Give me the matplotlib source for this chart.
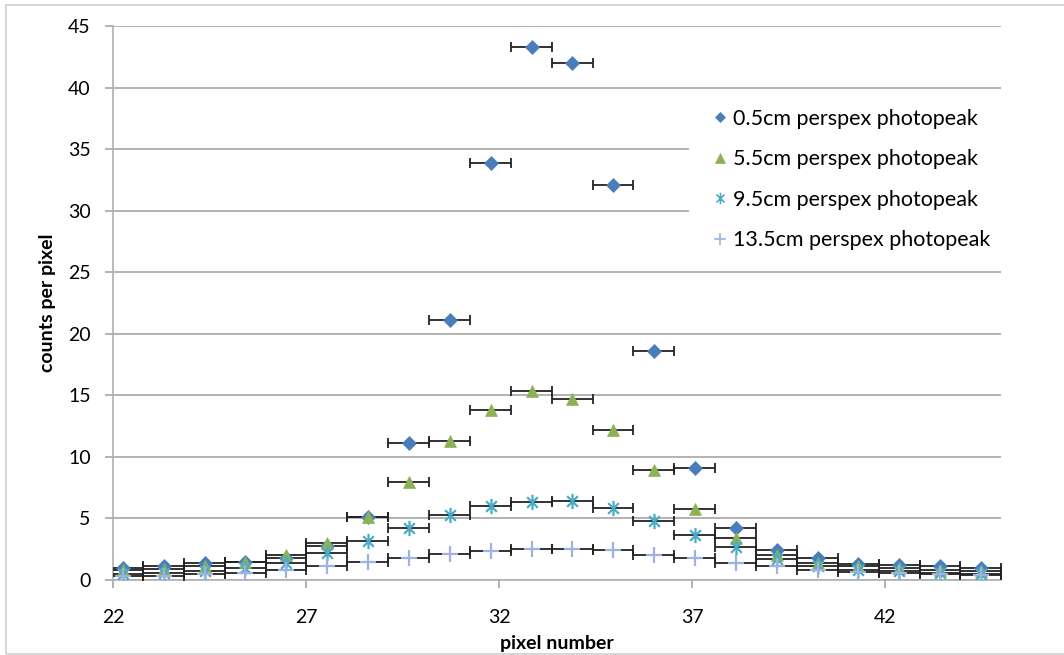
"""Photopeak counts per pixel for four perspex thicknesses"""

import matplotlib
matplotlib.use('Agg')
import matplotlib.pyplot as plt
from matplotlib.lines import Line2D
from matplotlib.patches import Rectangle
from matplotlib.path import Path

plt.rcParams['font.family'] = ['Lato', 'DejaVu Sans']

# pixel positions (bin centres)
pixel = [22.25, 23.31, 24.37, 25.43, 26.48, 27.54, 28.60, 29.66, 30.72, 31.78, 32.84,
         33.89, 34.95, 36.01, 37.07, 38.13, 39.19, 40.25, 41.30, 42.36, 43.42, 44.48]
pixel_halfwidth = 0.53

counts_05 = [1.0, 1.1, 1.35, 1.5, 1.8, 2.8, 5.1, 11.1, 21.1, 33.9, 43.3,
             42.0, 32.1, 18.6, 9.1, 4.2, 2.4, 1.75, 1.3, 1.2, 1.1, 1.0]
counts_55 = [0.8, 0.9, 1.1, 1.5, 2.0, 3.0, 5.1, 8.0, 11.3, 13.8, 15.35,
             14.7, 12.2, 8.9, 5.8, 3.4, 2.0, 1.4, 1.1, 0.95, 0.85, 0.75]
counts_95 = [0.5, 0.6, 0.75, 1.0, 1.4, 2.2, 3.2, 4.25, 5.25, 6.05, 6.35,
             6.4, 5.85, 4.8, 3.65, 2.65, 1.7, 1.1, 0.85, 0.7, 0.6, 0.5]
counts_135 = [0.3, 0.35, 0.45, 0.6, 0.85, 1.15, 1.5, 1.8, 2.15, 2.35, 2.55,
              2.5, 2.4, 2.05, 1.75, 1.4, 1.1, 0.85, 0.65, 0.55, 0.45, 0.4]

labels = ['0.5cm perspex photopeak', '5.5cm perspex photopeak',
          '9.5cm perspex photopeak', '13.5cm perspex photopeak']
colors = ['#4A7EBB', '#8DB255', '#4BACC6', '#9DB2E0']

# Excel-style asterisk: vertical bar plus an x
asterisk = Path([(0, -1), (0, 1), (-0.7, -0.7), (0.7, 0.7), (-0.7, 0.7), (0.7, -0.7)],
                [Path.MOVETO, Path.LINETO, Path.MOVETO, Path.LINETO, Path.MOVETO, Path.LINETO])
markers = ['D', '^', asterisk, '+']
sizes = [7, 9, 11, 11]

fig = plt.figure(figsize=(10.64, 6.55), dpi=100)
ax = fig.add_axes([0.1062, 0.1145, 0.8346, 0.8458])

# outer chart border
fig.patches.append(Rectangle((6 / 1064, 1 / 655), 1.2, 1 - 6 / 655, transform=fig.transFigure,
                             fill=False, edgecolor='#d0d0d0', linewidth=1.2, zorder=0))

series = [counts_05, counts_55, counts_95, counts_135]
for i, (vals, m, c, s) in enumerate(zip(series, markers, colors, sizes)):
    ax.errorbar(pixel, vals, xerr=pixel_halfwidth, fmt='none', ecolor='#222222',
                elinewidth=1.3, capsize=3.5, capthick=1.3, zorder=3 + i * 0.1, clip_on=True)
    ax.plot(pixel, vals, linestyle='none', marker=m, markersize=s, color=c,
            markeredgewidth=1.6 if i >= 2 else 0.5, zorder=4 + i * 0.1)

ax.set_xlim(22, 45)
ax.set_ylim(0, 45)
ax.set_xticks([22, 27, 32, 37, 42])
ax.set_yticks(range(0, 46, 5))
ax.grid(axis='y', color='#a6a6a6', linewidth=1.2)
ax.set_axisbelow(True)

for side in ['top', 'right']:
    ax.spines[side].set_visible(False)
for side in ['left', 'bottom']:
    ax.spines[side].set_color('#b0b0b0')
    ax.spines[side].set_linewidth(1.2)

ax.tick_params(axis='y', direction='out', length=6, width=1.2, color='#a6a6a6',
               labelsize=14, pad=10)
ax.tick_params(axis='x', direction='out', length=6, width=1.2, color='#a6a6a6',
               labelsize=14, pad=15)

ax.set_xlabel('pixel number', fontsize=14, fontweight='bold', labelpad=6)
ax.set_ylabel('counts per pixel', fontsize=14, fontweight='bold', labelpad=9)

# white box behind the legend hides the gridlines
ax.add_patch(Rectangle((0.6486, 0.563), 0.36, 0.322, transform=ax.transAxes,
                       facecolor='white', edgecolor='none', zorder=1, clip_on=False))

handles = [Line2D([], [], linestyle='none', marker=m, color=c, markersize=s * 0.75,
                  markeredgewidth=1.2 if i >= 2 else 0.5)
           for i, (m, c, s) in enumerate(zip(markers, colors, sizes))]
ax.legend(handles, labels, loc='upper left', bbox_to_anchor=(0.667, 0.866),
          frameon=False, fontsize=15.5, handlelength=0.6, handletextpad=0.3,
          labelspacing=0.95, borderaxespad=0)

plt.savefig('out.png', dpi=100)
plt.close()
